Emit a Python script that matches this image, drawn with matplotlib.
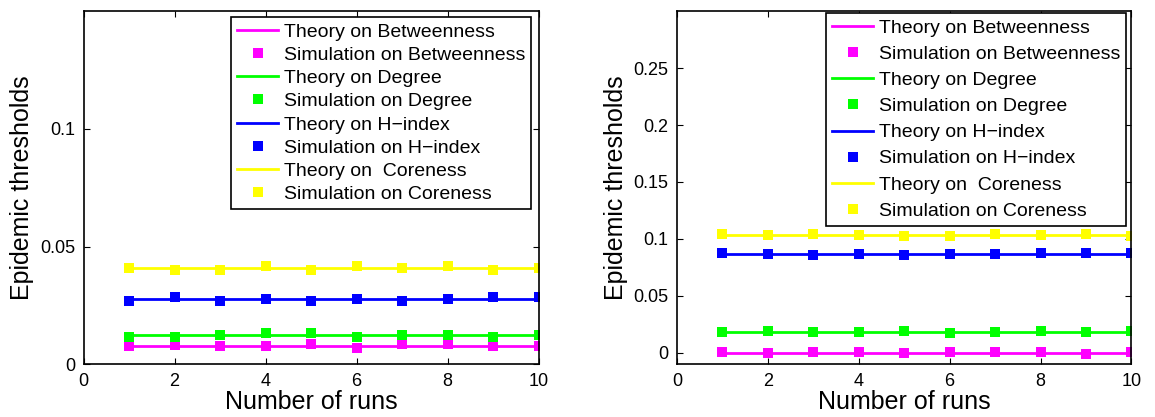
import numpy as np
import matplotlib.pyplot as plt

plt.rcParams['font.family'] = ['Liberation Sans', 'DejaVu Sans']

runs = np.arange(1, 11)

# left panel
theory_left = {'Betweenness': 0.0078, 'Degree': 0.0123, 'H-index': 0.0278, 'Coreness': 0.0407}
sim_left_betweenness = [0.0078, 0.0082, 0.0078, 0.0078, 0.0088, 0.0069, 0.0085, 0.0085, 0.0078, 0.0078]
sim_left_degree = [0.0114, 0.0114, 0.0124, 0.0134, 0.0134, 0.0114, 0.0124, 0.0124, 0.0114, 0.0124]
sim_left_hindex = [0.0268, 0.0287, 0.0268, 0.0278, 0.0268, 0.0278, 0.0268, 0.0278, 0.0287, 0.0287]
sim_left_coreness = [0.0407, 0.0400, 0.0400, 0.0417, 0.0400, 0.0417, 0.0407, 0.0417, 0.0400, 0.0407]

# right panel
theory_right = {'Betweenness': 0.0000, 'Degree': 0.0181, 'H-index': 0.0870, 'Coreness': 0.1039}
sim_right_betweenness = [0.0010, -0.0005, 0.0010, 0.0010, -0.0005, 0.0010, 0.0010, 0.0010, -0.0014, 0.0010]
sim_right_degree = [0.0181, 0.0192, 0.0181, 0.0181, 0.0192, 0.0172, 0.0181, 0.0192, 0.0181, 0.0192]
sim_right_hindex = [0.0876, 0.0864, 0.0855, 0.0864, 0.0855, 0.0864, 0.0864, 0.0873, 0.0873, 0.0873]
sim_right_coreness = [0.1045, 0.1036, 0.1045, 0.1036, 0.1027, 0.1027, 0.1045, 0.1036, 0.1045, 0.1027]

colors = {'Betweenness': '#ff00ff', 'Degree': '#00ff00', 'H-index': '#0000ff', 'Coreness': '#ffff00'}
theory_names = {'Betweenness': 'Theory on Betweenness', 'Degree': 'Theory on Degree',
                'H-index': 'Theory on H\u2212index', 'Coreness': 'Theory on  Coreness'}
sim_names = {'Betweenness': 'Simulation on Betweenness', 'Degree': 'Simulation on Degree',
             'H-index': 'Simulation on H\u2212index', 'Coreness': 'Simulation on Coreness'}


def dibujar(ax, theory, sims, ylim, yticks, yticklabels, leg_anchor, labelspacing):
    for key in ['Betweenness', 'Degree', 'H-index', 'Coreness']:
        c = colors[key]
        ax.plot(runs, [theory[key]] * len(runs), '-', color=c, linewidth=2,
                label=theory_names[key])
        ax.plot(runs, sims[key], 's', color=c, markersize=7, markeredgewidth=0,
                label=sim_names[key])
    ax.set_xlim(0, 10)
    ax.set_ylim(*ylim)
    ax.set_xticks([0, 2, 4, 6, 8, 10])
    ax.set_yticks(yticks)
    ax.set_yticklabels(yticklabels)
    ax.tick_params(direction='in', top=True, right=True, labelsize=13, length=4, width=0.8, pad=6)
    for s in ax.spines.values():
        s.set_linewidth(1.2)
    ax.set_xlabel('Number of runs', fontsize=18, labelpad=0)
    ax.set_ylabel('Epidemic thresholds', fontsize=18, labelpad=4)
    leg = ax.legend(loc='upper right', bbox_to_anchor=leg_anchor, fontsize=14,
                    fancybox=False, framealpha=1, edgecolor='black', borderpad=0.3,
                    labelspacing=labelspacing, handlelength=2.1, handletextpad=0.3,
                    markerscale=1.0, borderaxespad=0)
    leg.get_frame().set_linewidth(1.2)


fig = plt.figure(figsize=(11.55, 4.17), dpi=100)
ax1 = fig.add_axes([0.0723, 0.1264, 0.394, 0.847])
ax2 = fig.add_axes([0.5861, 0.1264, 0.3935, 0.847])

dibujar(ax1, theory_left,
        {'Betweenness': sim_left_betweenness, 'Degree': sim_left_degree,
         'H-index': sim_left_hindex, 'Coreness': sim_left_coreness},
        (0, 0.15), [0, 0.05, 0.1], ['0', '0.05', '0.1'], (0.9835, 0.983), 0.29)
dibujar(ax2, theory_right,
        {'Betweenness': sim_right_betweenness, 'Degree': sim_right_degree,
         'H-index': sim_right_hindex, 'Coreness': sim_right_coreness},
        (-0.01, 0.3), [0, 0.05, 0.1, 0.15, 0.2, 0.25],
        ['0', '0.05', '0.1', '0.15', '0.2', '0.25'], (0.988, 0.994), 0.44)

fig.savefig('out.png', dpi=100)
